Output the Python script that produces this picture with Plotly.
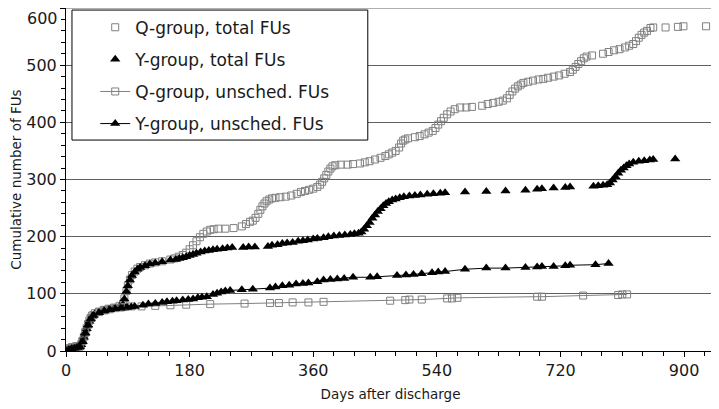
import plotly.graph_objects as go

# Q-group, total FUs (days after discharge, cumulative count)
q_total_days = [0, 2, 4, 6, 8, 10, 12, 14, 16, 18, 20, 22, 24, 26, 28, 30, 32, 34, 36, 38,
                42, 48, 55, 62, 70, 78, 83, 85, 88, 90, 93, 96, 100, 104, 108, 115, 122, 130,
                140, 152, 158, 164, 170, 175, 180, 185, 190, 195, 200, 205, 210, 215, 222, 232,
                244, 256, 262, 268, 272, 276, 280, 283, 286, 289, 292, 296, 300, 305, 312, 320,
                328, 336, 342, 348, 354, 360, 366, 370, 373, 376, 379, 382, 385, 388, 392, 400,
                410, 418, 428, 435, 442, 450, 458, 465, 470, 475, 480, 485, 488, 491, 494, 498,
                508, 515, 522, 528, 534, 538, 542, 546, 550, 555, 560, 566, 574, 583, 591, 606,
                614, 622, 630, 636, 642, 646, 650, 654, 658, 662, 666, 673, 680, 688, 695, 702,
                710, 718, 726, 734, 738, 742, 746, 750, 754, 758, 766, 782, 790, 798, 806, 814,
                820, 826, 830, 834, 838, 842, 846, 851, 855, 873, 891, 899, 932]
q_total_fus = [0, 2, 4, 5, 6, 7, 7, 8, 8, 8, 8, 12, 18, 25, 33, 40, 47, 53, 58, 62,
               66, 69, 72, 74, 76, 79, 82, 92, 105, 115, 125, 133, 139, 144, 147, 150, 153, 155,
               157, 160, 162, 165, 168, 172, 178, 185, 192, 199, 205, 209, 212, 213, 214, 214,
               215, 218, 222, 226, 228, 233, 240, 247, 253, 258, 262, 265, 267, 268, 269, 270,
               272, 275, 278, 280, 282, 284, 287, 291, 296, 302, 308, 314, 319, 323, 325, 326,
               326, 327, 328, 330, 332, 335, 338, 341, 344, 347, 350, 356, 363, 368, 370, 372,
               374, 376, 379, 382, 385, 390, 396, 402, 408, 414, 419, 423, 426, 426, 427, 429,
               432, 434, 436, 438, 442, 448, 454, 459, 463, 466, 469, 471, 473, 475, 476, 478,
               480, 482, 485, 488, 492, 497, 502, 507, 512, 515, 517, 520, 523, 526, 528, 531,
               534, 537, 542, 548, 553, 557, 560, 565, 566, 566, 567, 568, 568]

# Y-group, total FUs
y_total_days = [0, 2, 4, 6, 8, 10, 12, 14, 16, 18, 20, 22, 24, 26, 28, 30, 32, 34, 36, 38,
                42, 48, 55, 62, 70, 78, 83, 85, 88, 90, 93, 96, 100, 104, 108, 115, 122, 130,
                140, 152, 160, 165, 170, 175, 180, 185, 190, 196, 202, 208, 214, 220, 228, 235,
                242, 258, 266, 275, 294, 300, 308, 315, 322, 330, 338, 345, 352, 360, 366, 375,
                382, 390, 398, 406, 414, 420, 426, 430, 434, 438, 442, 446, 450, 454, 458, 462,
                466, 470, 475, 480, 486, 492, 500, 508, 516, 526, 535, 545, 552, 581, 612, 640,
                669, 686, 693, 710, 727, 734, 768, 775, 782, 788, 792, 796, 800, 804, 808, 812,
                816, 820, 826, 834, 842, 850, 855, 887]
y_total_fus = [0, 1, 2, 3, 4, 5, 5, 6, 6, 7, 8, 11, 17, 24, 32, 39, 46, 52, 57, 61,
               65, 68, 71, 73, 75, 78, 81, 91, 104, 114, 124, 132, 138, 143, 146, 149, 152, 154,
               156, 159, 160, 162, 163, 165, 167, 169, 171, 173, 175, 176, 177, 178, 179, 180,
               181, 181, 182, 182, 183, 185, 186, 188, 189, 190, 192, 193, 194, 196, 197, 198,
               200, 201, 202, 203, 204, 205, 206, 208, 213, 219, 225, 232, 238, 244, 249, 254,
               258, 261, 264, 266, 268, 270, 271, 272, 273, 274, 275, 276, 277, 278, 279, 280,
               281, 283, 284, 285, 286, 287, 288, 289, 290, 291, 294, 299, 305, 311, 316, 320,
               324, 327, 330, 332, 333, 334, 335, 336]

# Q-group, unscheduled FUs
q_unsched_days = [0, 4, 8, 12, 16, 20, 24, 28, 32, 36, 40, 48, 56, 64, 72, 80, 86, 95, 110,
                  130, 152, 175, 210, 260, 297, 310, 330, 353, 375, 472, 494, 500, 518, 555,
                  562, 570, 686, 693, 753, 804, 810, 817]
q_unsched_fus = [0, 4, 6, 7, 8, 8, 17, 32, 46, 57, 63, 68, 71, 73, 75, 76, 77, 78, 78,
                 79, 80, 81, 82, 83, 84, 84, 85, 85, 86, 88, 89, 90, 90, 92,
                 92, 93, 95, 95, 97, 98, 99, 99]

# Y-group, unscheduled FUs
y_unsched_days = [0, 4, 8, 12, 16, 20, 24, 28, 32, 36, 40, 48, 56, 64, 72, 80, 89, 95, 100,
                  112, 120, 130, 140, 147, 155, 161, 170, 178, 185, 192, 198, 205, 214, 220,
                  226, 232, 239, 256, 272, 297, 305, 315, 325, 335, 345, 353, 366, 375, 385,
                  395, 405, 418, 443, 453, 482, 495, 506, 518, 533, 542, 552, 581, 612, 640,
                  669, 686, 693, 710, 727, 734, 771, 790]
y_unsched_fus = [0, 2, 4, 5, 6, 7, 16, 31, 45, 56, 62, 67, 70, 72, 74, 75, 76, 77, 78,
                 80, 82, 83, 85, 86, 87, 88, 89, 90, 91, 93, 94, 95, 99, 101,
                 103, 105, 106, 107, 108, 110, 112, 114, 115, 117, 118, 119, 121, 124, 125,
                 126, 127, 129, 129, 130, 132, 133, 134, 135, 137, 138, 139, 143, 145, 145,
                 146, 147, 148, 148, 149, 150, 151, 153]

x_ticks = [0, 180, 360, 540, 720, 900]
y_ticks = [0, 100, 200, 300, 400, 500, 600]

font = "DejaVu Sans, Verdana, sans-serif"
gray = "#808080"

fig = go.Figure()
fig.add_trace(go.Scatter(x=q_total_days, y=q_total_fus, mode="markers", name="Q-group, total FUs",
                         legendgroup="a",
                         marker=dict(symbol="square-open", size=7, color=gray, line=dict(width=1, color=gray))))
fig.add_trace(go.Scatter(x=y_total_days, y=y_total_fus, mode="markers", name="Y-group, total FUs",
                         legendgroup="b",
                         marker=dict(symbol="triangle-up", size=9, color="black")))
fig.add_trace(go.Scatter(x=q_unsched_days, y=q_unsched_fus, mode="lines+markers", name="Q-group, unsched. FUs",
                         legendgroup="c", line=dict(color=gray, width=1),
                         marker=dict(symbol="square-open", size=7, color=gray, line=dict(width=1, color=gray))))
fig.add_trace(go.Scatter(x=y_unsched_days, y=y_unsched_fus, mode="lines+markers", name="Y-group, unsched. FUs",
                         legendgroup="d", line=dict(color="black", width=1),
                         marker=dict(symbol="triangle-up", size=9, color="black")))

# legend frame and right/top border of the plot area
fig.add_shape(type="rect", xref="paper", yref="paper", x0=0.0092, x1=0.465, y0=0.615, y1=0.994,
              line=dict(color="black", width=1), fillcolor="white", layer="above")
fig.add_shape(type="line", xref="paper", yref="paper", x0=1, x1=1, y0=0, y1=1,
              line=dict(color="#a0a0a0", width=1.5))
fig.add_shape(type="line", xref="paper", yref="paper", x0=0, x1=1, y0=1, y1=1,
              line=dict(color="#606060", width=1))

# top tick label sits at the very edge, so it is written slightly lower as an annotation
y_labels = [str(v) for v in y_ticks[:-1]] + [""]
fig.add_annotation(xref="paper", x=0, y=y_ticks[-1], yref="y", text=str(y_ticks[-1]),
                   showarrow=False, xanchor="right", yanchor="top", xshift=-7, yshift=0,
                   borderpad=0, font=dict(size=16, color="#1a1a1a"))

# the page body adds an 8px offset, so the figure is sized to fit the window
fig.update_layout(
    width=711, height=401,
    margin=dict(l=58, r=4, t=0, b=58),
    paper_bgcolor="white", plot_bgcolor="white",
    font=dict(family=font, size=16, color="#1a1a1a"),
    showlegend=True,
    legend=dict(x=0.045, y=0.995, xanchor="left", yanchor="top", bgcolor="rgba(0,0,0,0)",
                borderwidth=0, tracegroupgap=7, font=dict(size=17)),
    xaxis=dict(range=[0, 945], tickvals=x_ticks, showgrid=False, zeroline=False, automargin=False,
               showline=True, linecolor="black", linewidth=1, ticks="outside", ticklen=5,
               tickcolor="black", tickfont=dict(size=16),
               minor=dict(dtick=30, ticks="outside", ticklen=4, tickcolor="black"),
               title=dict(text="Days after discharge", standoff=10, font=dict(size=13.5))),
    yaxis=dict(range=[0, 600], tickvals=y_ticks, ticktext=y_labels, showgrid=True, gridcolor="#606060",
               gridwidth=1, zeroline=False, automargin=False,
               showline=True, linecolor="black", linewidth=1, ticks="outside", ticklen=5,
               tickcolor="black", tickfont=dict(size=16),
               minor=dict(dtick=20, ticks="outside", ticklen=4, tickcolor="black"),
               title=dict(text="Cumulative number of FUs", standoff=20, font=dict(size=13.5))),
)

fig.write_html("out.html")
